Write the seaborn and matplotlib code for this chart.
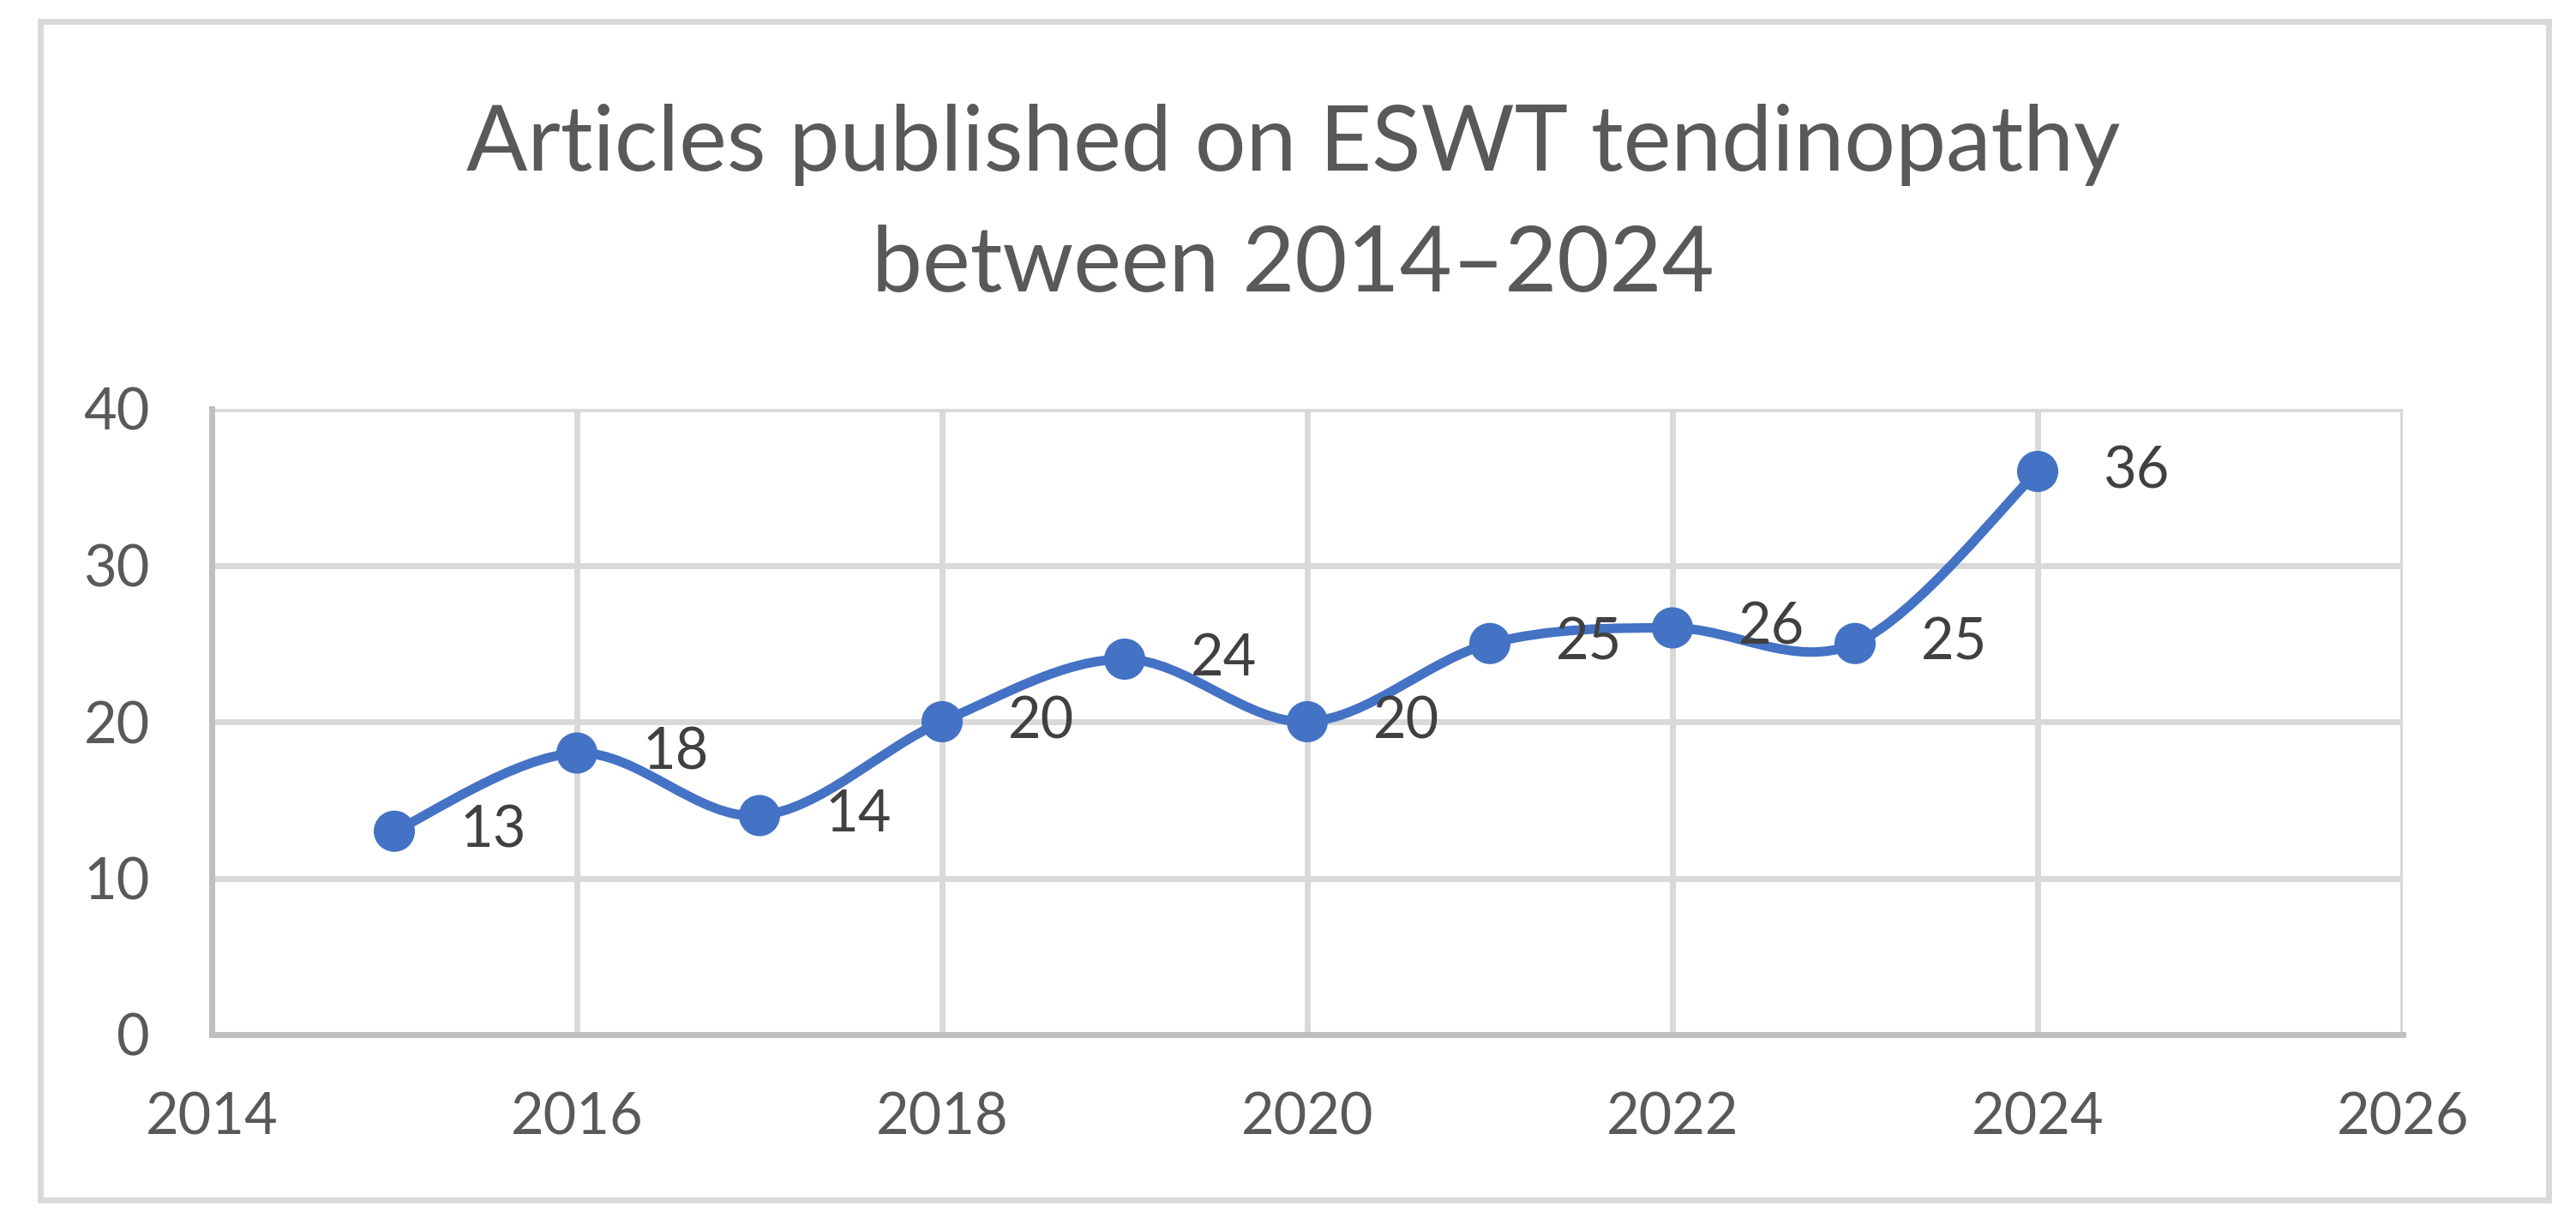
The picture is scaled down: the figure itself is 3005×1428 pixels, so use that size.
import matplotlib
matplotlib.use("Agg")
import matplotlib.pyplot as plt
import seaborn as sns
import numpy as np
import pandas as pd
from matplotlib.path import Path
from matplotlib.patches import PathPatch, Rectangle

# data
years = [2015, 2016, 2017, 2018, 2019, 2020, 2021, 2022, 2023, 2024]
articles = [13, 18, 14, 20, 24, 20, 25, 26, 25, 36]
x_ticks = [2014, 2016, 2018, 2020, 2022, 2024, 2026]
y_ticks = [0, 10, 20, 30, 40]
title_lines = ["Articles published on ESWT tendinopathy", "between 2014\u20132024"]

df = pd.DataFrame({"year": years, "articles": articles})

sns.set_style("white")
plt.rcParams["font.family"] = ["Lato", "DejaVu Sans"]

W, H = 3005, 1428
fig = plt.figure(figsize=(W / 100, H / 100), dpi=100)
ax = fig.add_axes([247 / W, 1 - 1207 / H, (2803 - 247) / W, (1207 - 477) / H])

blue = "#4472C4"
grid_c = "#d9d9d9"
spine_c = "#bfbfbf"
text_c = "#595959"

# smoothed line (Excel style bezier through the points)
xs = np.array(years, dtype=float)
ys = np.array(articles, dtype=float)
verts = [(xs[0], ys[0])]
codes = [Path.MOVETO]
n = len(xs)
for i in range(n - 1):
    p0 = np.array([xs[max(i - 1, 0)], ys[max(i - 1, 0)]])
    p1 = np.array([xs[i], ys[i]])
    p2 = np.array([xs[i + 1], ys[i + 1]])
    p3 = np.array([xs[min(i + 2, n - 1)], ys[min(i + 2, n - 1)]])
    c1 = p1 + (p2 - p0) / 6
    c2 = p2 - (p3 - p1) / 6
    verts += [tuple(c1), tuple(c2), tuple(p2)]
    codes += [Path.CURVE4] * 3
ax.add_patch(PathPatch(Path(verts, codes), facecolor="none", edgecolor=blue,
                       lw=8, capstyle="round", joinstyle="round", zorder=3))

sns.scatterplot(data=df, x="year", y="articles", color=blue, s=1200,
                edgecolor="none", ax=ax, zorder=4, legend=False)

for x, y in zip(years, articles):
    ax.annotate(str(y), (x, y), xytext=(55, 0), textcoords="offset points",
                ha="left", va="center", fontsize=48, color="#404040", zorder=5)

ax.set_xlim(2014, 2026)
ax.set_ylim(0, 40)
ax.set_xticks(x_ticks)
ax.set_yticks(y_ticks)
ax.set_xlabel("")
ax.set_ylabel("")
ax.grid(True, color=grid_c, lw=5)
ax.set_axisbelow(True)
for s in ["top", "right"]:
    ax.spines[s].set_visible(False)
for s in ["left", "bottom"]:
    ax.spines[s].set_color(spine_c)
    ax.spines[s].set_linewidth(5)
ax.tick_params(axis="both", length=0, labelsize=48, labelcolor=text_c)
ax.tick_params(axis="y", pad=52)
ax.tick_params(axis="x", pad=48)

# title
fig.text(0.502, 1 - 199 / H, title_lines[0], ha="center", va="baseline",
         fontsize=76, color=text_c)
fig.text(0.502, 1 - 340 / H, title_lines[1], ha="center", va="baseline",
         fontsize=76, color=text_c)

# chart border
fig.patches.append(Rectangle((47 / W, 1 - 1400 / H), (2973 - 47) / W, (1400 - 25) / H,
                             transform=fig.transFigure, facecolor="none",
                             edgecolor=grid_c, lw=5))

fig.savefig("out.png", dpi=100)
